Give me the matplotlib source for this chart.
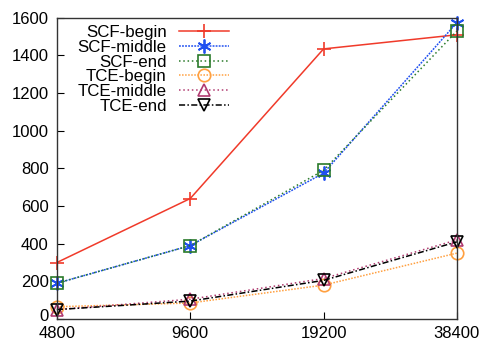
#!/usr/bin/env python3
import matplotlib
matplotlib.use("Agg")
import matplotlib.pyplot as plt
import matplotlib.transforms as mtransforms
from matplotlib.ticker import FixedLocator, FixedFormatter, NullLocator

sizes = [4800, 9600, 19200, 38400]
labels = ["SCF-begin", "SCF-middle", "SCF-end", "TCE-begin", "TCE-middle", "TCE-end"]
scf_begin = [300, 640, 1435, 1510]
scf_middle = [190, 390, 775, 1575]
scf_end = [190, 390, 790, 1530]
tce_begin = [65, 85, 180, 350]
tce_middle = [50, 105, 215, 420]
tce_end = [50, 95, 205, 410]

plt.rcParams['font.family'] = ['Liberation Sans', 'DejaVu Sans']

fig = plt.figure(figsize=(4.82, 3.43), dpi=100)
ax = fig.add_axes([0.118, 0.070, 0.830, 0.878])

styles = [
    dict(color="#f03a2a", ls="-", marker="+", ms=10, mew=1.2, mfc="none"),
    dict(color="#2050f0", ls=(0, (1.2, 0.8)), marker=(6, 2, 0), ms=10, mew=1.3),
    dict(color="#2a7a2a", ls=(0, (1, 1.8)), marker="s", ms=8.5, mew=1.2, mfc="none"),
    dict(color="#ffa040", ls=(0, (1, 1)), marker="o", ms=9, mew=1.2, mfc="none"),
    dict(color="#b03a70", ls=(0, (1, 1.8)), marker="^", ms=9, mew=1.2, mfc="none"),
    dict(color="#000000", ls=(0, (4, 1.5, 1, 1.5)), marker="v", ms=8, mew=1.2, mfc="none"),
]
series = [scf_begin, scf_middle, scf_end, tce_begin, tce_middle, tce_end]
for lab, vals, st in zip(labels, series, styles):
    ax.plot(sizes, vals, label=lab, lw=1.1, clip_on=False, **st)

ax.set_xscale("log", base=2)
ax.set_xlim(4800, 38400)
ax.xaxis.set_major_locator(FixedLocator(sizes))
ax.xaxis.set_major_formatter(FixedFormatter([str(s) for s in sizes]))
ax.xaxis.set_minor_locator(NullLocator())
ax.set_ylim(0, 1600)
ax.set_yticks(range(0, 1601, 200))

ax.tick_params(direction="in", labelsize=12, length=5, width=0.8)
ax.tick_params(axis="y", pad=6)
ax.tick_params(axis="x", pad=5)
for sp in ax.spines.values():
    sp.set_linewidth(1.0)
    sp.set_color("#333333")

# lift the "0" label a little so it clears the 4800 label
lbl0 = ax.get_yticklabels()[0]
lbl0.set_transform(lbl0.get_transform() +
                   mtransforms.ScaledTranslation(0, 3 / 72, fig.dpi_scale_trans))

ax.legend(loc="upper left", markerfirst=False, frameon=False, fontsize=12.2,
          handlelength=3.0, labelspacing=-0.02, borderaxespad=0.0, borderpad=0.0,
          handletextpad=0.7, bbox_to_anchor=(0.052, 0.975))
leg = ax.get_legend()
for t in leg.get_texts():
    t.set_ha("right")

fig.savefig("out.png", dpi=100)
